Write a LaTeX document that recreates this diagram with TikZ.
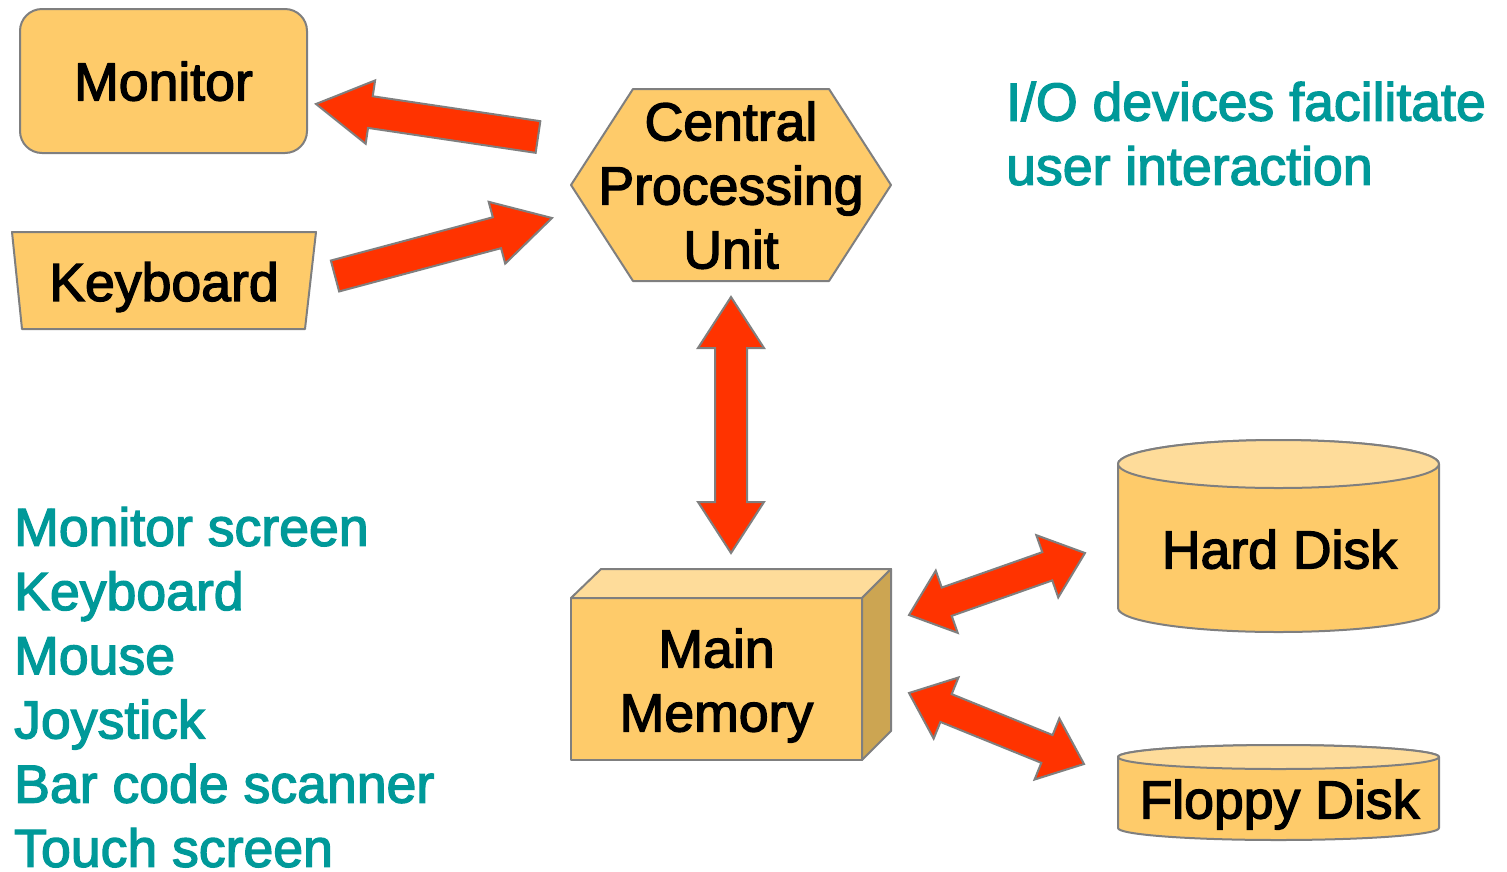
\documentclass[tikz,border=0pt]{standalone}
\usepackage{fontspec}
\setmainfont{Liberation Sans}[FakeBold=2.5]
\usetikzlibrary{calc}
\definecolor{boxfill}{HTML}{FECB6A}
\definecolor{boxtop}{HTML}{FEDC9A}
\definecolor{boxside}{HTML}{CCA552}
\definecolor{edgegray}{HTML}{7F7F7F}
\definecolor{arrowred}{HTML}{FF3300}
\definecolor{tealtext}{HTML}{009999}
\tikzset{
  shapest/.style={draw=edgegray, line width=2pt, fill=boxfill, line join=round},
  lbl/.style={font=\fontsize{53.6}{64}\selectfont, text depth=0pt, inner sep=0pt, align=center},
  sidetext/.style={font=\fontsize{53.6}{64.2}\selectfont, text=tealtext, text depth=0pt, inner sep=0pt, align=left},
  blockarrow/.style={draw=edgegray, line width=2pt, fill=arrowred, line join=miter},
}
% single block arrow: tail, tip, head length, head half-width, shaft half-width
\newcommand\myarrowone[5]{%
  \coordinate (hb) at ($(#2)!#3!(#1)$);
  \draw[blockarrow] ($(#1)!#5!90:(#2)$) -- ($(hb)!#5!90:(#2)$) -- ($(hb)!#4!90:(#2)$) -- (#2)
    -- ($(hb)!#4!-90:(#2)$) -- ($(hb)!#5!-90:(#2)$) -- ($(#1)!#5!-90:(#2)$) -- cycle;}
% double block arrow
\newcommand\myarrowtwo[5]{%
  \coordinate (ha) at ($(#1)!#3!(#2)$);
  \coordinate (hb) at ($(#2)!#3!(#1)$);
  \draw[blockarrow] (#1) -- ($(ha)!#4!90:(#2)$) -- ($(ha)!#5!90:(#2)$) -- ($(hb)!#5!90:(#2)$)
    -- ($(hb)!#4!90:(#2)$) -- (#2) -- ($(hb)!#4!-90:(#2)$) -- ($(hb)!#5!-90:(#2)$)
    -- ($(ha)!#5!-90:(#2)$) -- ($(ha)!#4!-90:(#2)$) -- cycle;}
\begin{document}
\begin{tikzpicture}[x=1pt,y=-1pt]
\useasboundingbox (0,0) rectangle (1507,871);
% Monitor
\node[shapest, rounded corners=22pt, minimum width=287pt, minimum height=144pt, lbl] (monitor) at (163.5,81) {Monitor};
% Keyboard
\draw[shapest] (12,232) -- (316,232) -- (305,329) -- (22,329) -- cycle;
\node[lbl] (keyboard) at (164,281.5) {Keyboard};
% CPU
\draw[shapest] (571,185) -- (633,89) -- (829,89) -- (891,185) -- (829,281) -- (633,281) -- cycle;
\node[lbl] (cpu) at (731,185) {Central\\Processing\\Unit};
% Main memory
\draw[shapest] (571,598) rectangle (862,760);
\draw[shapest, fill=boxtop] (571,598) -- (601,569) -- (891,569) -- (862,598) -- cycle;
\draw[shapest, fill=boxside] (862,598) -- (891,569) -- (891,731) -- (862,760) -- cycle;
\node[lbl] (memory) at (716.5,680) {Main\\Memory};
% Hard disk
\draw[shapest] (1118,464) -- (1118,608) arc[start angle=180, end angle=360, x radius=160.5pt, y radius=24pt]
  -- (1439,464) arc[start angle=0, end angle=180, x radius=160.5pt, y radius=24pt] -- cycle;
\draw[shapest, fill=boxtop] (1278.5,464) ellipse [x radius=160.5pt, y radius=24pt];
\node[lbl] (hd) at (1279.5,549) {Hard Disk};
% Floppy disk
\draw[shapest] (1118,757) -- (1118,828) arc[start angle=180, end angle=360, x radius=160.5pt, y radius=12pt]
  -- (1439,757) arc[start angle=0, end angle=180, x radius=160.5pt, y radius=12pt] -- cycle;
\draw[shapest, fill=boxtop] (1278.5,757) ellipse [x radius=160.5pt, y radius=12pt];
\node[lbl] (fd) at (1279.5,799) {Floppy Disk};
% arrows
\coordinate (monTail) at (538,137);
\coordinate (monTip) at (316,104);
\myarrowone{monTail}{monTip}{55pt}{32pt}{16pt}
\coordinate (kbTail) at (335,276);
\coordinate (kbTip) at (552,218);
\myarrowone{kbTail}{kbTip}{57pt}{32pt}{16pt}
\coordinate (cpuEnd) at (731,297);
\coordinate (memTop) at (731,553);
\myarrowtwo{cpuEnd}{memTop}{51pt}{33pt}{16pt}
\coordinate (memR1) at (909,615);
\coordinate (hdL) at (1085,553);
\myarrowtwo{memR1}{hdL}{40pt}{33pt}{15pt}
\coordinate (memR2) at (909,693);
\coordinate (fdL) at (1084,764);
\myarrowtwo{memR2}{fdL}{40pt}{33pt}{15pt}
% side texts
\node[sidetext, anchor=south west] (io) at (1006,185) {I/O devices facilitate\\user interaction};
\node[sidetext, anchor=south west] (list) at (14,867) {Monitor screen\\Keyboard\\Mouse\\Joystick\\Bar code scanner\\Touch screen};
\end{tikzpicture}
\end{document}
